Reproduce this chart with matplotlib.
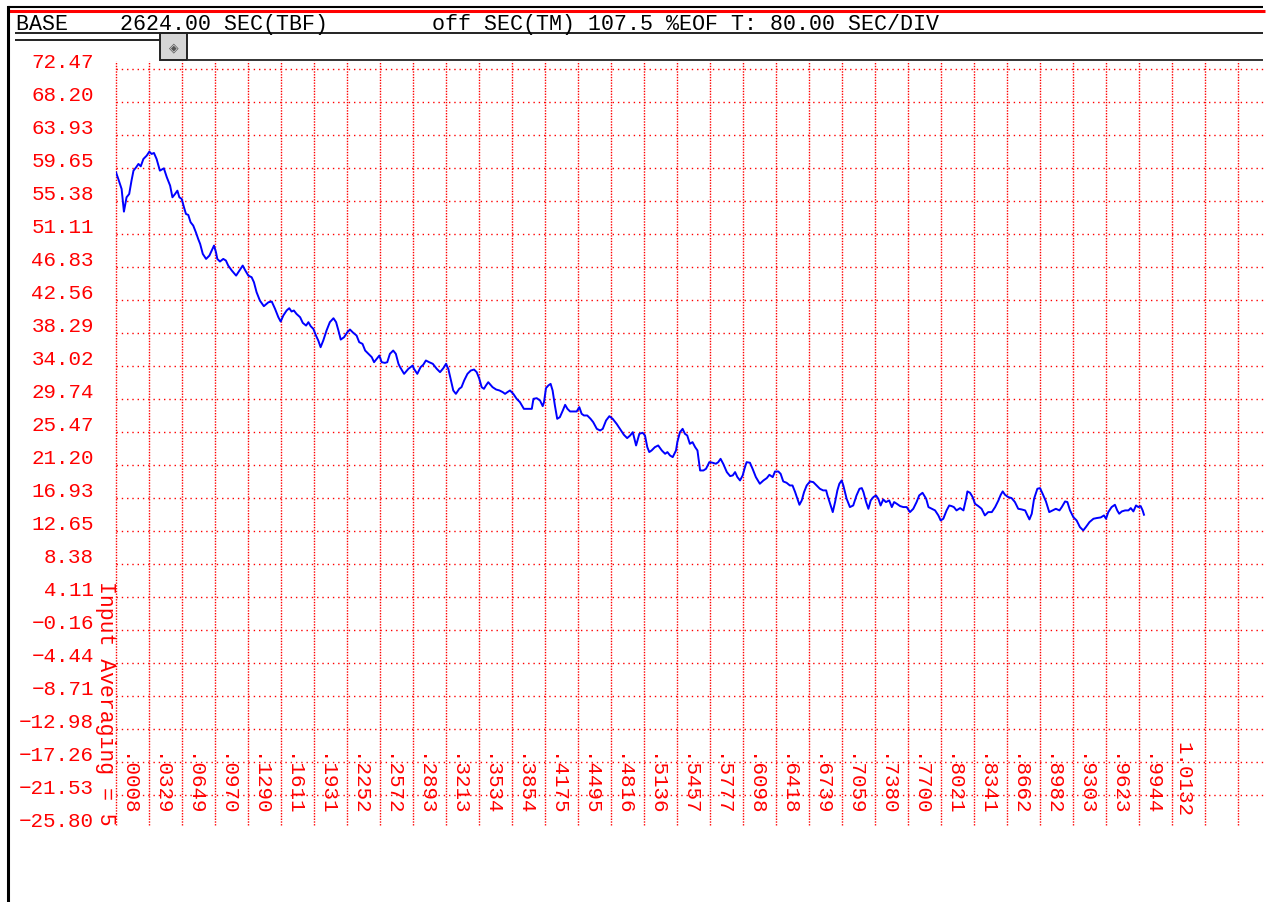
import matplotlib
matplotlib.use('Agg')  # headless
import matplotlib.pyplot as plt
import matplotlib.transforms as mtransforms
from matplotlib.lines import Line2D
from matplotlib.patches import Rectangle

# ---- data (x in divisions, y in the instrument units) ----
div_pos = [
    0.00, 0.07, 0.17, 0.24, 0.32, 0.40, 0.47, 0.53, 0.61, 0.68, 0.75, 0.83, 0.93, 1.01, 1.08, 1.15,
    1.23, 1.33, 1.45, 1.54, 1.64, 1.71, 1.79, 1.86, 1.92, 1.99, 2.06, 2.12, 2.19, 2.26, 2.34, 2.42,
    2.49, 2.55, 2.63, 2.73, 2.83, 2.90, 2.97, 3.03, 3.07, 3.15, 3.25, 3.33, 3.40, 3.51, 3.64, 3.74,
    3.84, 3.92, 4.01, 4.11, 4.18, 4.26, 4.36, 4.48, 4.62, 4.72, 4.82, 4.92, 4.99, 5.07, 5.17, 5.25,
    5.32, 5.39, 5.47, 5.58, 5.66, 5.76, 5.83, 5.90, 5.98, 6.06, 6.13, 6.20, 6.28, 6.38, 6.48, 6.59,
    6.67, 6.74, 6.81, 6.91, 7.01, 7.09, 7.19, 7.29, 7.37, 7.47, 7.55, 7.65, 7.75, 7.82, 7.90, 7.98,
    8.05, 8.15, 8.22, 8.30, 8.40, 8.48, 8.56, 8.61, 8.73, 8.86, 8.99, 9.03, 9.13, 9.23, 9.31, 9.39,
    9.49, 9.60, 9.72, 9.82, 9.92, 10.00, 10.07, 10.14, 10.22, 10.30, 10.40, 10.47, 10.55, 10.65, 10.75, 10.85,
    10.93, 11.01, 11.08, 11.15, 11.21, 11.28, 11.41, 11.52, 11.62, 11.72, 11.79, 11.86, 11.94, 12.04, 12.14, 12.24,
    12.36, 12.49, 12.60, 12.65, 12.75, 12.85, 12.93, 12.97, 13.03, 13.10, 13.17, 13.23, 13.30, 13.37, 13.45, 13.54,
    13.61, 13.68, 13.76, 13.86, 13.96, 14.04, 14.11, 14.18, 14.28, 14.38, 14.46, 14.57, 14.67, 14.75, 14.85, 14.95,
    15.05, 15.17, 15.27, 15.39, 15.49, 15.58, 15.66, 15.76, 15.86, 15.96, 16.03, 16.10, 16.16, 16.23, 16.33, 16.43,
    16.54, 16.64, 16.71, 16.79, 16.87, 16.97, 17.01, 17.09, 17.17, 17.24, 17.31, 17.39, 17.47, 17.55, 17.62, 17.70,
    17.80, 17.88, 17.98, 18.08, 18.18, 18.25, 18.32, 18.40, 18.51, 18.61, 18.69, 18.76, 18.83, 18.91, 18.99, 19.06,
    19.11, 19.21, 19.29, 19.39, 19.51, 19.62, 19.72, 19.80, 19.90, 19.97, 20.07, 20.14, 20.22, 20.32, 20.42, 20.50,
    20.58, 20.65, 20.71, 20.78, 20.85, 20.93, 21.03, 21.13, 21.23, 21.33, 21.43, 21.52, 21.56, 21.64, 21.72, 21.79,
    21.86, 21.92, 21.99, 22.04, 22.14, 22.24, 22.34, 22.44, 22.53, 22.60, 22.65, 22.73, 22.80, 22.87, 22.95, 23.03,
    23.10, 23.17, 23.25, 23.33, 23.43, 23.51, 23.58, 23.66, 23.76, 23.86, 23.96, 24.06, 24.16, 24.26, 24.34, 24.44,
    24.55, 24.62, 24.72, 24.82, 24.92, 24.99, 25.07, 25.17, 25.25, 25.32, 25.39, 25.47, 25.58, 25.68, 25.76, 25.80,
    25.88, 25.96, 26.03, 26.13, 26.23, 26.33, 26.43, 26.54, 26.64, 26.74, 26.81, 26.87, 26.94, 27.04, 27.14, 27.24,
    27.34, 27.44, 27.55, 27.62, 27.68, 27.75, 27.82, 27.92, 28.00, 28.08, 28.18, 28.28, 28.38, 28.48, 28.59, 28.66,
    28.76, 28.83, 28.91, 29.01, 29.11, 29.21, 29.31, 29.39, 29.50, 29.62, 29.72, 29.84, 29.94, 30.00, 30.07, 30.17,
    30.27, 30.34, 30.40, 30.48, 30.58, 30.68, 30.75, 30.83, 30.91, 30.98, 31.05, 31.11, 31.15,
]
level = [
    59.10, 58.23, 56.94, 54.00, 55.86, 56.29, 58.02, 59.31, 59.74, 60.18, 59.87, 60.82, 61.25, 61.77, 61.47, 61.60,
    60.82, 59.31, 59.61, 58.45, 57.37, 55.86, 56.29, 56.72, 55.86, 55.65, 54.57, 53.70, 53.58, 52.63, 52.20, 51.33,
    50.47, 49.82, 48.53, 47.88, 48.31, 48.96, 49.61, 48.74, 47.88, 47.54, 47.88, 47.67, 47.02, 46.37, 45.72, 46.37,
    47.02, 46.37, 45.72, 45.51, 44.86, 43.57, 42.49, 41.76, 42.27, 42.36, 41.41, 40.33, 39.77, 40.55, 41.20, 41.50,
    41.07, 41.20, 40.76, 40.33, 39.60, 39.25, 39.69, 39.17, 38.82, 37.96, 37.31, 36.45, 37.31, 38.61, 39.69, 40.20,
    39.69, 38.61, 37.44, 37.74, 38.39, 38.74, 38.31, 37.96, 37.10, 36.88, 36.02, 35.59, 35.16, 34.51, 34.94, 35.37,
    34.51, 34.42, 34.51, 35.59, 36.02, 35.59, 34.29, 33.86, 33.00, 33.65, 34.08, 33.65, 33.00, 33.87, 34.17, 34.73,
    34.51, 34.30, 33.65, 33.22, 33.74, 34.30, 33.65, 32.36, 30.85, 30.41, 31.06, 31.28, 32.14, 33.00, 33.43, 33.56,
    33.22, 32.36, 31.28, 31.06, 31.49, 31.92, 31.28, 30.97, 30.85, 30.63, 30.41, 30.63, 30.85, 30.41, 29.77, 29.34,
    28.47, 28.47, 28.47, 29.77, 29.85, 29.55, 28.82, 29.34, 31.15, 31.49, 31.71, 30.85, 28.90, 27.18, 27.39, 28.26,
    28.99, 28.47, 28.13, 28.13, 28.13, 28.69, 27.83, 27.61, 27.61, 27.18, 26.75, 25.88, 25.67, 25.88, 26.96, 27.52,
    27.18, 26.53, 25.88, 25.11, 24.68, 25.02, 25.45, 23.73, 25.24, 25.37, 25.02, 23.51, 22.87, 23.08, 23.51, 23.73,
    23.08, 22.65, 22.87, 22.43, 22.22, 23.08, 24.16, 25.45, 25.88, 25.24, 25.02, 23.94, 24.16, 23.51, 23.08, 20.49,
    20.49, 20.71, 21.57, 21.49, 21.36, 21.57, 22.00, 21.36, 20.28, 19.76, 19.85, 20.28, 19.63, 19.20, 19.85, 20.93,
    21.57, 21.49, 20.71, 19.63, 18.77, 19.20, 19.50, 19.93, 19.63, 20.36, 20.36, 20.06, 19.07, 18.90, 18.55, 18.55,
    17.69, 16.83, 16.05, 16.61, 17.69, 18.55, 19.07, 18.98, 18.55, 18.12, 17.91, 17.91, 17.26, 16.18, 15.10, 16.40,
    17.91, 18.77, 19.20, 18.55, 16.83, 15.75, 15.96, 17.26, 18.12, 18.21, 17.69, 16.40, 15.53, 16.61, 17.04, 17.26,
    16.83, 15.96, 16.74, 16.40, 16.61, 15.75, 16.40, 16.18, 15.88, 15.75, 15.75, 15.10, 15.53, 16.40, 17.26, 17.60,
    16.83, 15.75, 15.53, 15.32, 14.67, 14.02, 14.24, 15.32, 15.96, 15.88, 15.75, 15.32, 15.62, 15.32, 16.83, 17.78,
    17.60, 17.04, 16.18, 15.88, 15.53, 14.67, 15.10, 15.10, 15.75, 16.61, 17.34, 17.78, 17.34, 17.04, 16.91, 16.40,
    15.53, 15.45, 15.32, 14.67, 14.15, 14.89, 16.83, 18.12, 18.21, 17.47, 16.48, 15.10, 15.32, 15.53, 15.32, 15.75,
    16.48, 16.40, 15.32, 14.45, 14.02, 13.16, 12.73, 13.16, 13.81, 14.24, 14.33, 14.41, 14.67, 14.24, 15.10, 15.75,
    16.05, 15.32, 14.89, 15.19, 15.32, 15.32, 15.62, 15.19, 15.96, 15.75, 15.88, 15.32, 14.76,
]

y_ticks = [72.47, 68.20, 63.93, 59.65, 55.38, 51.11, 46.83, 42.56, 38.29, 34.02, 29.74, 25.47,
           21.20, 16.93, 12.65, 8.38, 4.11, -0.16, -4.44, -8.71, -12.98, -17.26, -21.53, -25.80]
x_tick_labels = ['.0008', '.0329', '.0649', '.0970', '.1290', '.1611', '.1931', '.2252', '.2572',
                 '.2893', '.3213', '.3534', '.3854', '.4175', '.4495', '.4816', '.5136', '.5457',
                 '.5777', '.6098', '.6418', '.6739', '.7059', '.7380', '.7700', '.8021', '.8341',
                 '.8662', '.8982', '.9303', '.9623', '.9944', '1.0132']
n_divs = 34  # vertical grid lines 0..34

header = 'BASE    2624.00 SEC(TBF)        off SEC(TM) 107.5 %EOF T: 80.00 SEC/DIV'
side_label = 'Input Averaging = 5'

# ---- layout in pixels ----
W, H = 1268, 903
def fx(x):
    return x / W
def fy(y):
    return 1 - y / H

MONO = ['Liberation Mono', 'DejaVu Sans Mono']
RED = '#ff0000'

fig = plt.figure(figsize=(W / 100, H / 100), dpi=100)
fig.patch.set_facecolor('white')

# plot area: 33 px per division both ways
ax = fig.add_axes([fx(116), fy(829), fx(1263) - fx(116), fy(70) - fy(829)])
ax.set_xlim(0, (1263 - 116) / 33)
ax.set_ylim(-25.80, 72.47)
ax.axis('off')

# dotted grid
for k in range(n_divs + 1):
    ax.axvline(k, ymin=3 / 759, ymax=1 + 8 / 759, color=RED, lw=1.0,
               linestyle=(0, (1, 1)), clip_on=False)
for v in y_ticks[:-1]:
    ax.axhline(v, color=RED, lw=1.0, linestyle=(0, (1, 2.8)), clip_on=False)

# trace
ax.plot(div_pos, level, color='#0000ff', lw=1.4, zorder=5)

# y labels sit just above their grid line
ytrans = mtransforms.offset_copy(
    mtransforms.blended_transform_factory(fig.transFigure, ax.transData),
    fig=fig, x=0, y=2, units='dots')
for v in y_ticks:
    ax.text(fx(94), v, f'{v:.2f}'.replace('-', '\u2212'), transform=ytrans,
            ha='right', va='baseline', color=RED, fontsize=15, family=MONO)

# x labels, rotated, inside the bottom of the grid
xtrans = mtransforms.offset_copy(
    mtransforms.blended_transform_factory(ax.transData, fig.transFigure),
    fig=fig, x=5, y=0, units='dots')
for k, lab in enumerate(x_tick_labels):
    ax.text(k, fy(817), lab, transform=xtrans, rotation=-90, rotation_mode='anchor',
            ha='right', va='baseline', color=RED, fontsize=15, family=MONO)

fig.text(fx(100), fy(581), side_label, rotation=-90, rotation_mode='anchor',
         ha='left', va='baseline', color=RED, fontsize=15.5, family=MONO)

# header / window chrome
def hline(x0, x1, y, color, lw):
    fig.add_artist(Line2D([fx(x0), fx(x1)], [fy(y), fy(y)], transform=fig.transFigure,
                          color=color, lw=lw, solid_capstyle='butt'))

hline(8, 1263, 8, 'black', 1.5)
hline(8, 1265, 12, RED, 2.2)
hline(15, 1263, 34, '#222222', 1.4)
hline(15, 160, 41, '#222222', 1.4)
hline(187, 1263, 61, '#333333', 1.4)
fig.add_artist(Line2D([fx(7.5), fx(7.5)], [fy(8), fy(903)], transform=fig.transFigure,
                      color='black', lw=2.2))

fig.add_artist(Rectangle((fx(160), fy(61)), fx(187) - fx(160), fy(34) - fy(61),
                         transform=fig.transFigure, facecolor='#d6d6d6',
                         edgecolor='#222222', lw=1.4))
fig.text(fx(173.5), fy(47.5), '\u25c8', ha='center', va='center', fontsize=9,
         color='#555555', family='DejaVu Sans')

fig.text(fx(16), fy(30), header, ha='left', va='baseline', color='black',
         fontsize=15.6, family=MONO)

plt.savefig('out.png', dpi=100, facecolor='white')
plt.close()
